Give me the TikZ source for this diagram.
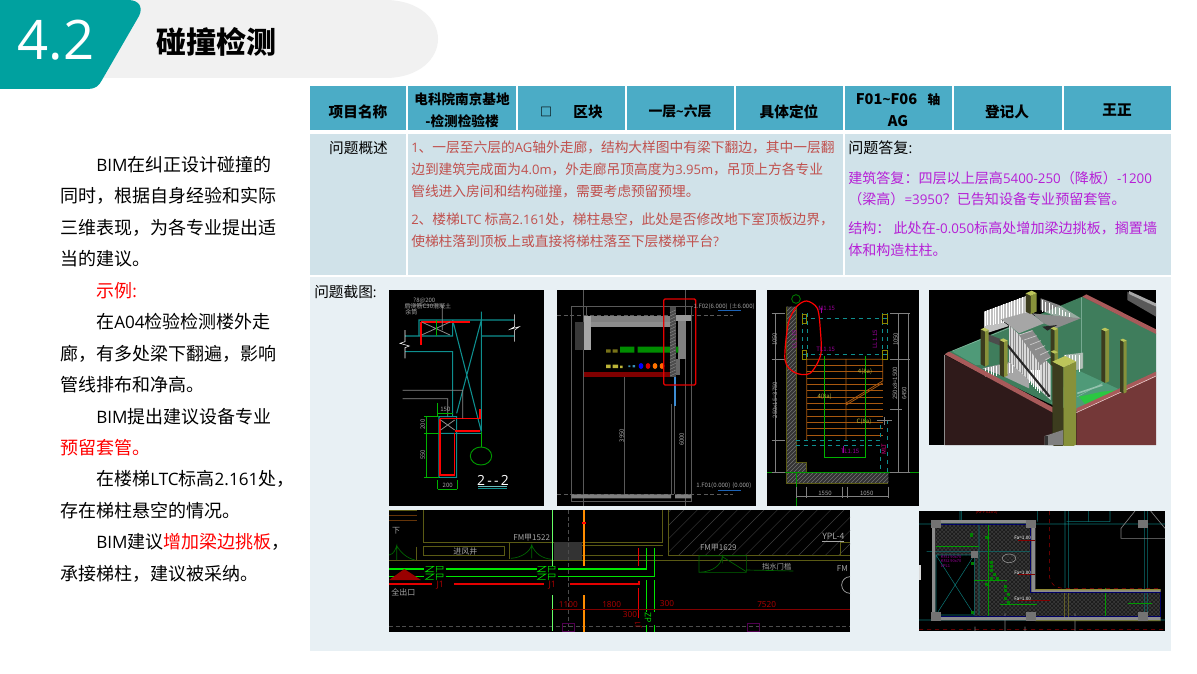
\documentclass[tikz,border=0pt]{standalone}
\usepackage{fontspec}
\setmainfont{Noto Sans CJK SC}
\newfontfamily\latinfont[Scale=0.95]{Open Sans}
\newcommand{\la}[1]{{\latinfont #1}}
\usetikzlibrary{patterns}
\definecolor{tealtab}{HTML}{00A19F}
\definecolor{headbar}{HTML}{F1F1F1}
\definecolor{cellhead}{HTML}{4BACC6}
\definecolor{cellbody}{HTML}{D0E2E9}
\definecolor{cellpale}{HTML}{E8F0F4}
\definecolor{redtext}{HTML}{C0504D}
\definecolor{purpletext}{HTML}{B61FD6}
\definecolor{cadteal}{HTML}{0E8F8F}
\definecolor{cadolive}{HTML}{5A5A14}
\definecolor{cadorange}{HTML}{A8580F}
\definecolor{cadmag}{HTML}{A000A0}
\definecolor{roomgreen}{HTML}{3F7D5C}
\definecolor{floorgreen}{HTML}{4F9A78}
\definecolor{wallleft}{HTML}{2F1A1A}
\definecolor{wallright}{HTML}{743838}
\definecolor{wallrim}{HTML}{A85A5A}
\definecolor{colfront}{HTML}{87913A}
\definecolor{coldark}{HTML}{3C3C1E}
\definecolor{coltop}{HTML}{BCC55A}
\tikzset{
  bodyline/.style={anchor=west,inner sep=0pt,font=\fontsize{13.5pt}{16pt}\selectfont},
  redline/.style={anchor=west,inner sep=0pt,text=redtext,font=\fontsize{10.3pt}{12pt}\selectfont},
  purpleline/.style={anchor=west,inner sep=0pt,text=purpletext,font=\fontsize{10.55pt}{12pt}\selectfont},
  headcell/.style={inner sep=0pt,align=center,font=\fontsize{11pt}{13pt}\selectfont\bfseries},
  cadlabel/.style={inner sep=0pt,text=black!35,font=\fontsize{4.5pt}{5pt}\selectfont},
  zoomed/.style={x=0.25pt,y=-0.25pt},
}
\begin{document}
\begin{tikzpicture}[x=0.75pt,y=-0.75pt]
\useasboundingbox (0,0) rectangle (1197,674);
\fill[white] (0,0) rectangle (1197,674);

% title bar
\fill[headbar] (100,0) -- (385,0) .. controls (420,0) and (438,20) .. (438,39)
  .. controls (438,58) and (420,78) .. (385,78) -- (100,78) -- cycle;
\fill[tealtab] (0,0) -- (128,0) .. controls (140,0) and (143,8) .. (139,16)
  -- (102,80) .. controls (99,86) and (95,89) .. (88,89) -- (0,89) -- cycle;
\node[text=white,font=\fontsize{43pt}{45pt}\selectfont\latinfont] (secnum) at (56,40) {4.2};
\node[anchor=west,inner sep=0pt,font=\fontsize{22.5pt}{24pt}\selectfont\bfseries] (sectitle) at (156,42) {碰撞检测};

% left text
\node[bodyline] (t1) at (96,165) {\la{BIM}在纠正设计碰撞的};
\node[bodyline] (t2) at (60,196) {同时，根据自身经验和实际};
\node[bodyline] (t3) at (60,228) {三维表现，为各专业提出适};
\node[bodyline] (t4) at (60,259) {当的建议。};
\node[bodyline,text=red] (t5) at (96,291) {示例\la{:}};
\node[bodyline] (t6) at (96,322) {在\la{A04}检验检测楼外走};
\node[bodyline] (t7) at (60,354) {廊，有多处梁下翻遍，影响};
\node[bodyline] (t8) at (60,385) {管线排布和净高。};
\node[bodyline] (t9) at (96,417) {\la{BIM}提出建议设备专业};
\node[bodyline,text=red] (t10) at (60,448) {预留套管。};
\node[bodyline] (t11) at (96,479) {在楼梯\la{LTC}标高\la{2.161}处，};
\node[bodyline] (t12) at (60,511) {存在梯柱悬空的情况。};
\node[bodyline] (t13) at (96,542) {\la{BIM}建议\textcolor{red}{增加梁边挑板}，};
\node[bodyline] (t14) at (60,574) {承接梯柱，建议被采纳。};

% table cells
\foreach \xa/\xb in {310/406,408/516,518/625,627/734,736/843,845/952,954/1062,1064/1171}
  \fill[cellhead] (\xa,86) rectangle (\xb,130);
\foreach \xa/\xb in {310/406,408/843,845/1171}
  \fill[cellbody] (\xa,134) rectangle (\xb,275);
\fill[cellpale] (310,277) rectangle (1171,651);

\node[headcell] (h1) at (358,112) {项目名称};
\node[headcell,font=\fontsize{10.2pt}{16.5pt}\selectfont\bfseries] (h2) at (462,110.5) {电科院南京基地\\-检测检验楼};
\node[headcell,font=\fontsize{9pt}{13pt}\selectfont\bfseries] (h3a) at (546,112) {□};
\node[headcell] (h3b) at (588,112) {区块};
\node[headcell,font=\fontsize{10.4pt}{13pt}\selectfont\bfseries] (h4) at (680,111) {一层\la{\textasciitilde}六层};
\node[headcell] (h5) at (789,112) {具体定位};
\node[headcell,font=\fontsize{11pt}{16.5pt}\selectfont\bfseries] (h6) at (898,110) {F01\la{\textasciitilde}F06\hspace{0.7em}{\fontsize{9.5pt}{12pt}\selectfont 轴}\\AG};
\node[headcell] (h7) at (1007,112) {登记人};
\node[headcell] (h8) at (1117,110) {王正};

\node[inner sep=0pt,font=\fontsize{11pt}{12pt}\selectfont] (q1) at (358.5,148) {问题概述};
\node[redline] (r1) at (411,147) {\la{1}、一层至六层的\la{AG}轴外走廊，结构大样图中有梁下翻边，其中一层翻};
\node[redline] (r2) at (411,169) {边到建筑完成面为\la{4.0m}，外走廊吊顶高度为\la{3.95m}，吊顶上方各专业};
\node[redline] (r3) at (411,191) {管线进入房间和结构碰撞，需要考虑预留预埋。};
\node[redline] (r4) at (411,219) {\la{2}、楼梯\la{LTC} 标高\la{2.161}处，梯柱悬空，此处是否修改地下室顶板边界，};
\node[redline] (r5) at (411,241) {使梯柱落到顶板上或直接将梯柱落至下层楼梯平台\la{?}};
\node[anchor=west,inner sep=0pt,font=\fontsize{11.3pt}{12pt}\selectfont] (q2) at (848,148) {问题答复\la{:}};
\node[purpleline] (p1) at (848,178) {建筑答复：四层以上层高\la{5400-250}（降板）\la{-1200}};
\node[purpleline] (p2) at (848,199) {（梁高）\la{=3950}？已告知设备专业预留套管。};
\node[purpleline] (p3) at (848,228) {结构： 此处在\la{-0.050}标高处增加梁边挑板，搁置墙};
\node[purpleline] (p4) at (848,250) {体和构造柱柱。};
\node[anchor=west,inner sep=0pt,font=\fontsize{11pt}{12pt}\selectfont] (q3) at (314,292) {问题截图\la{:}};

% shot 1: section 2--2
\begin{scope}[shift={(310,280)},zoomed]
\fill[black] (237,30) rectangle (702,678);
\draw[cadteal,line width=0.8pt] (327,120) rectangle (428,168) (428,120) -- (612,120)
  (514,168) -- (612,168) (285,168) -- (327,168) (285,215) -- (428,215) -- (428,410)
  (428,120) -- (514,455) (514,95) -- (514,455) (514,120) -- (440,400)
  (387,410) rectangle (440,592) (387,460) -- (514,460);
\draw[red,line width=1.2pt] (333,126) -- (480,126) (333,126) -- (333,195)
  (390,416) -- (510,416) -- (510,388) (434,453) -- (510,453)
  (390,416) -- (390,585) -- (434,585) -- (434,460);
\draw[black!45,line width=0.6pt] (278,331) -- (458,331) -- (458,415) (278,356) -- (413,356) -- (413,410)
  (397,150) -- (397,75) (285,75) -- (397,75) (392,420) -- (434,450) (434,420) -- (392,450)
  (335,126) -- (420,165) (420,126) -- (335,165);
\draw[white,line width=0.4pt] (285,150) -- (285,185) -- (270,190) -- (298,198) -- (285,203) -- (285,235)
  (614,103) -- (614,140) -- (600,148) -- (628,140) -- (614,150) -- (614,185);
\draw[green!70!black,line width=0.5pt] (349,410) -- (349,592) (342,410) -- (387,410) (342,460) -- (387,460)
  (342,592) -- (387,592) (383,400) -- (430,400) (383,370) -- (383,410) (383,628) -- (441,628)
  (383,600) -- (383,628) (441,600) -- (441,628) (379,120) -- (379,168) (513,455) -- (513,500);
\draw[green!60!black,line width=0.7pt] (513,528) ellipse (32 and 27);
\draw[cadteal!60!white,line width=0.8pt] (505,619) -- (591,619);
\draw[cadteal,line width=0.4pt] (505,625) -- (591,625);
\node[inner sep=0pt,text=white,font=\fontsize{11pt}{12pt}\selectfont\latinfont] (cut) at (549,600) {2\,-\,-\,2};
\node[cadlabel] (s1a) at (343,63) {?8@200};
\node[cadlabel,anchor=west] (s1b) at (283,78) {后浇筋C30混凝土};
\node[cadlabel,anchor=west] (s1c) at (285,98) {余筒};
\node[cadlabel] (s1d) at (406,388) {150};
\node[cadlabel] (s1e) at (413,616) {200};
\node[cadlabel,rotate=90] (s1f) at (338,433) {200};
\node[cadlabel,rotate=90] (s1g) at (338,525) {550};
\end{scope}

% shot 2: wall section
\begin{scope}[shift={(310,280)},zoomed]
\fill[black] (741,30) rectangle (1338,678);
\draw[black!65,line width=0.4pt] (820,30) -- (820,678) (1127,30) -- (1127,678) (784,80) rectangle (1144,665)
  (830,80) -- (830,107) (943,290) -- (943,643) (1083,373) -- (1083,643) (1092,373) -- (1092,643)
  (830,80) -- (1150,80);
\draw[black!65,densely dashed,line width=0.3pt] (741,105) -- (1270,105) (741,643) -- (1270,643);
\fill[black!78] (795,127) rectangle (842,210);
\fill[black!50] (822,107) rectangle (1080,127);
\fill[black!45] (822,127) rectangle (1080,140);
\fill[black!35] (822,107) rectangle (842,210);
\fill[black!40] (1095,105) rectangle (1144,122);
\fill[black!50] (1105,122) rectangle (1128,237);
\fill[black!60] (1097,237) rectangle (1110,285);
\fill[green!55!black] (930,200) rectangle (973,218) (983,200) rectangle (1105,218);
\fill[olive!80!black] (888,208) rectangle (902,218) (908,208) rectangle (923,218);
\fill[yellow!70!black] (888,254) rectangle (902,264) (908,254) rectangle (924,264) (930,257) rectangle (938,264);
\fill[cyan!70!black] (955,256) rectangle (961,261) (968,255) rectangle (975,262);
\foreach \cx/\ccol in {993/blue,1014/red!85!black,1035/orange!90!red,1056/orange!80!red}
  \fill[\ccol] (\cx,258) ellipse (7 and 9);
\fill[red!50!black] (822,276) rectangle (1085,290);
\fill[black!70] (1080,80) rectangle (1097,290);
\foreach \hy in {90,100,...,280}
  \draw[black!45,line width=0.3pt] (1080,\hy+8) -- (1097,\hy);
\fill[cyan!60!blue!80] (1092,290) rectangle (1098,378);
\fill[black!50] (784,643) rectangle (1083,655) (1095,643) rectangle (1144,655);
\draw[red!90!black,line width=1pt,rounded corners=1pt] (1061,57) rectangle (1157,315);
\draw[cyan!40!blue,line width=0.3pt] (1225,92) -- (1292,92) (1225,630) -- (1292,630);
\node[cadlabel,anchor=west] (s2a) at (1150,80) {1.F02(6.000)\,\,(±6.000)};
\node[cadlabel,anchor=west] (s2b) at (1158,616) {1.F01(0.000)\,\,(0.000)};
\node[cadlabel,rotate=90] (s2c) at (935,467) {3950};
\node[cadlabel,rotate=90] (s2d) at (1115,478) {6000};
\end{scope}

% shot 3: stair plan
\begin{scope}[shift={(760,280)},zoomed]
\fill[black] (21,30) rectangle (477,678);
\fill[black!80] (78,80) rectangle (108,578) (78,547) rectangle (140,610) (140,578) rectangle (385,610);
\fill[pattern=north east lines,pattern color=black!55] (78,80) rectangle (108,578) (78,547) rectangle (140,610) (140,578) rectangle (385,610);
\draw[cadolive,line width=0.5pt] (78,80) -- (78,610) -- (385,610) (108,80) -- (108,547) -- (140,547) -- (140,578) -- (385,578);
\draw[green!60!black,line width=0.5pt] (21,578) -- (477,578) (108,578) -- (108,678);
\draw[green!50!black,line width=0.6pt] (108,57) circle (13);
\foreach \ry in {256,275,...,480}
  \draw[cadorange,line width=0.6pt] (140,\ry) -- (368,\ry);
\draw[cadorange,line width=0.6pt] (140,238) -- (368,238) (140,238) -- (140,480) (258,238) -- (258,480)
  (368,238) -- (368,303) (260,368) -- (368,303) (260,374) -- (368,309);
\draw[green!70!black,line width=0.5pt] (193,228) -- (193,532) -- (316,532) -- (316,228);
\draw[cadteal,dashed,line width=0.6pt] (128,115) -- (383,115) (128,224) -- (383,224) (128,100) -- (128,238) (142,100) -- (142,238)
  (368,100) -- (368,238) (383,100) -- (383,238)
  (107,480) -- (362,480) -- (362,420) (107,497) -- (362,497) -- (362,578) (383,420) -- (383,578);
\foreach \cx/\cy in {127/102,368/102,127/210,368/210}
  \draw[olive,line width=0.6pt] (\cx,\cy) rectangle ++(13,28);
\draw[black!50,line width=0.4pt] (45,100) -- (45,578) (35,100) -- (75,100) (35,238) -- (75,238) (35,480) -- (75,480) (35,578) -- (75,578)
  (415,100) -- (415,578) (445,100) -- (445,578) (390,100) -- (450,100) (390,238) -- (450,238) (390,388) -- (425,388) (390,578) -- (450,578)
  (108,650) -- (385,650) (108,620) -- (108,655) (140,620) -- (140,655) (248,620) -- (248,655) (262,620) -- (262,655) (385,620) -- (385,655)
  (350,422) -- (395,422) (372,410) -- (372,435);
\draw[cadmag,line width=0.4pt] (183,100) -- (183,85) (250,497) -- (250,520);
\draw[red,line width=0.9pt] plot[smooth cycle] coordinates {(140,63) (172,85) (181,150) (182,225) (150,280) (105,278) (75,240) (85,130) (110,80)};
\node[cadlabel,text=cadmag] (s3a) at (200,85) {M1.15};
\node[cadlabel,text=cadmag,rotate=90] (s3b) at (103,178) {LL1.15};
\node[cadlabel,text=cadmag,rotate=90] (s3c) at (345,178) {LL1.15};
\node[cadlabel,text=cadmag] (s3d) at (197,207) {TL1.15};
\node[cadlabel,text=cadmag] (s3e) at (270,515) {TL1.15};
\node[cadlabel,text=magenta,rotate=90] (s3f) at (372,508) {MLT};
\node[cadlabel,text=yellow!70!black] (s3g) at (194,351) {4(8a)};
\node[cadlabel,text=yellow!70!black] (s3h) at (315,276) {4(8a)};
\node[cadlabel,text=yellow!70!black] (s3i) at (312,426) {C(8a)};
\node[cadlabel,rotate=90] (s3j) at (45,360) {250x15=3750};
\node[cadlabel,rotate=90] (s3k) at (405,310) {250x8=1500};
\node[cadlabel,rotate=90] (s3l) at (407,178) {1050};
\node[cadlabel,rotate=90] (s3m) at (44,178) {1050};
\node[cadlabel,rotate=90] (s3n) at (433,340) {6450};
\node[cadlabel] (s3o) at (195,640) {1550};
\node[cadlabel] (s3p) at (320,640) {1050};
\end{scope}

% shot 4: 3D view of the stair
\begin{scope}[shift={(929,290)},zoomed]
\fill[black] (0,0) rectangle (681,465);
\begin{scope}
\clip (0,0) rectangle (681,465);
\fill[black!65] (595,5) -- (681,50) -- (681,80) -- (595,30) -- cycle;
\fill[black!35] (600,3) -- (681,40) -- (681,50) -- (600,12) -- cycle;
\fill[roomgreen] (50,190) -- (460,20) -- (681,130) -- (681,260) -- (445,365) -- (370,345) -- cycle;
\fill[floorgreen] (70,185) -- (165,143) -- (165,225) -- (140,225) -- cycle;
\fill[floorgreen] (445,240) -- (575,300) -- (445,362) -- (365,340) -- cycle;
\fill[green!45!floorgreen] (450,320) -- (520,305) -- (570,300) -- (470,345) -- cycle;
\draw[floorgreen!60!white,line width=0.3pt] (458,22) -- (458,235) (70,183) -- (300,90) (445,320) -- (520,280);
\draw[floorgreen!60!white,line width=1.2pt] (445,310) -- (520,285);
% upper flight and landing
\fill[black!25] (165,65) -- (300,15) -- (300,70) -- (215,90) -- (240,108) -- (165,132) -- cycle;
\foreach \bx in {168,176,...,296}
  \draw[white,line width=0.35pt] (\bx,{65-(\bx-165)*.37}) -- (\bx,{108-(\bx-165)*.15});
\fill[black!25,opacity=.7] (335,25) -- (390,45) -- (455,85) -- (380,80) -- (335,60) -- cycle;
\foreach \bx in {340,350,...,420}
  \draw[white,line width=0.3pt] (\bx,{30+(\bx-340)*.5}) -- (\bx,{65+(\bx-340)*.2});
\fill[black!35] (215,88) -- (300,65) -- (345,100) -- (270,130) -- (240,105) -- cycle;
\fill[black!45] (310,70) -- (455,85) -- (380,115) -- (345,100) -- cycle;
\fill[black!85] (340,110) -- (385,105) -- (355,122) -- cycle;
% lower landing
\fill[black!35] (160,235) -- (270,210) -- (300,240) -- (300,295) -- (215,255) -- cycle;
\foreach \bx in {170,178,...,250}
  \draw[white,line width=0.3pt] (\bx,{235-(\bx-165)*.2}) -- (\bx,{265-(\bx-165)*.2});
\fill[black!15] (240,105) -- (365,225) -- (365,330) -- (240,215) -- cycle;
\fill[black!45] (270,135) -- (310,120) -- (365,200) -- (335,225) -- cycle;
\foreach \sy in {135,150,...,210}
  \draw[black!20,line width=0.5pt] ({270+(\sy-135)*1.05},\sy) -- ({310+(\sy-135)*.85},{\sy-13});
\foreach \bx in {244,252,...,362}
  \draw[black!45,line width=0.3pt] (\bx,{105+(\bx-240)*.96}) -- (\bx,{215+(\bx-240)*.92});
\foreach \bx in {300,306,...,330}
  \draw[white,line width=0.5pt] (\bx,240) -- (\bx,{280+(\bx-300)});
\fill[black!70] (170,130) -- (235,155) -- (235,175) -- (170,150) -- cycle;
\draw[black!85,line width=1.6pt] (235,165) -- (362,320);
\fill[black!20,opacity=.75] (405,195) -- (462,188) -- (462,235) -- (405,250) -- cycle;
\foreach \bx in {410,420,...,455}
  \draw[white,line width=0.3pt] (\bx,196) -- (\bx,245);
% walls
\fill[wallleft] (47,195) -- (370,365) -- (370,465) -- (47,465) -- cycle;
\fill[wallright] (442,368) -- (681,258) -- (681,465) -- (442,465) -- cycle;
\fill[wallrim] (47,193) -- (60,185) -- (372,352) -- (372,368) -- cycle;
\fill[wallrim] (442,355) -- (681,245) -- (681,260) -- (442,368) -- cycle;
\fill[wallrim] (460,20) -- (472,13) -- (681,118) -- (681,132) -- cycle;
\draw[black!45,line width=0.35pt] (47,195) -- (47,465);
\draw[white!80!wallrim,line width=0.35pt] (442,368) -- (681,258);
% columns
\foreach \cx/\cy/\ch/\lw/\rw in {155/118/105/13/11,212/150/105/13/11,290/10/55/15/18,365/115/70/12/10,365/185/40/12/10,517/118/155/12/11,573/150/155/11/9,370/215/250/33/38}{
  \fill[coldark] (\cx,\cy) -- ({\cx+\lw},{\cy+.5*\lw}) -- ++(0,\ch) -- (\cx,{\cy+\ch}) -- cycle;
  \fill[colfront] ({\cx+\lw},{\cy+.5*\lw}) -- ({\cx+\lw+\rw},{\cy+.5*\lw-.45*\rw}) -- ++(0,\ch) -- ({\cx+\lw},{\cy+.5*\lw+\ch}) -- cycle;
  \fill[coltop] (\cx,\cy) -- ({\cx+\rw},{\cy-.45*\rw}) -- ({\cx+\lw+\rw},{\cy+.5*\lw-.45*\rw}) -- ({\cx+\lw},{\cy+.5*\lw}) -- cycle;
}
\fill[black!50] (347,438) -- (402,420) -- (402,465) -- (347,465) -- cycle;
\fill[black!80] (347,438) rectangle (356,465);
\end{scope}
\end{scope}

% shot 5: corridor plan
\begin{scope}[shift={(385,505)},zoomed]
\fill[black] (12,15) rectangle (1395,380);
\begin{scope}
\clip (12,15) rectangle (1395,380);
\begin{scope}
\clip (850,15) rectangle (1395,152);
\foreach \hx in {720,760,...,1400}
  \draw[black!75,line width=0.3pt] (\hx,152) -- ++(137,-137);
\end{scope}
\draw[cadolive,line width=0.5pt] (115,15) -- (115,112) -- (833,112) -- (833,15) (850,15) -- (850,152) -- (1395,152)
  (115,125) rectangle (358,152) (373,112) -- (373,162) (95,125) -- (95,165)
  (12,15) -- (95,15) (592,122) -- (833,122) (592,152) -- (833,152) (12,165) -- (1395,165) (1365,112) -- (1395,112) (1365,112) -- (1365,152);
\draw[cadorange!60!black,line width=0.4pt] (12,30) -- (95,30) (12,45) -- (95,45);
\fill[black!80] (508,112) rectangle (592,165);
\draw[black!70,densely dashed,line width=0.4pt] (550,15) -- (550,380) (12,365) -- (1395,365);
\draw[green!40!black,line width=0.5pt] (12,150) .. controls (28,148) and (32,130) .. (35,122) -- (35,165)
  (35,122) .. controls (45,140) and (65,160) .. (90,165)
  (378,160) .. controls (410,158) and (435,140) .. (440,120) -- (440,160)
  (440,120) .. controls (450,145) and (470,160) .. (500,163)
  (942,202) .. controls (985,200) and (1008,180) .. (1012,155) -- (1012,175)
  (1012,155) -- (1084,200) (942,152) rectangle (1084,202) (1084,195) -- (1225,198);
\draw[green!90!black,line width=1pt] (12,192) -- (118,192) (12,215) -- (118,215) (182,192) -- (455,192) (182,215) -- (455,215)
  (520,192) -- (785,192) -- (785,130) (520,215) -- (808,215) -- (808,130)
  (785,225) -- (785,320) (808,225) -- (808,320) (785,360) -- (785,380) (808,360) -- (808,380);
\fill[red!60!black] (12,225) -- (58,192) -- (108,225) -- cycle;
\draw[red!90!black,line width=0.8pt] (12,237) -- (142,237) (208,237) -- (478,237) (555,237) -- (762,237) -- (762,228)
  (760,130) -- (760,183) (760,250) -- (760,340);
\draw[green!60!white,line width=1.2pt] (502,15) -- (502,182) (502,270) -- (502,378);
\draw[orange!90!yellow,line width=1.2pt] (597,15) -- (597,182) (597,270) -- (597,380);
\fill[red] (592,50) rectangle (604,57);
\draw[red!50!black,line width=0.5pt] (498,312) -- (1395,312);
\draw[cadmag!50!black,line width=0.5pt] (532,355) rectangle (568,378) (1088,355) rectangle (1124,378);
\draw[black!30,line width=0.5pt] (1395,240) circle (25);
\foreach \vx in {150,486}
  \foreach \vy in {192,215}
    \draw[green!85!black,line width=0.5pt] (\vx-28,\vy-8) -- (\vx-4,\vy-8) -- (\vx-28,\vy+8) -- (\vx-4,\vy+8)
      (\vx+4,\vy+10) -- (\vx+4,\vy-8) -- (\vx+24,\vy-8) -- (\vx+24,\vy) -- (\vx+4,\vy);
\node[cadlabel,font=\fontsize{6pt}{7pt}\selectfont] (s5a) at (440,97) {FM甲1522};
\node[cadlabel,font=\fontsize{6pt}{7pt}\selectfont] (s5b) at (241,140) {进风井};
\node[cadlabel,font=\fontsize{6pt}{7pt}\selectfont] (s5c) at (55,263) {全出口};
\node[cadlabel,font=\fontsize{6pt}{7pt}\selectfont] (s5d) at (33,77) {下};
\node[cadlabel,font=\fontsize{6pt}{7pt}\selectfont] (s5e) at (1000,127) {FM甲1629};
\node[cadlabel,font=\fontsize{5.5pt}{7pt}\selectfont] (s5f) at (1175,186) {挡水门槛};
\node[cadlabel,font=\fontsize{6.5pt}{7pt}\selectfont] (s5g) at (1345,98) {\underline{YPL-4}};
\node[cadlabel,font=\fontsize{6pt}{7pt}\selectfont] (s5h) at (1372,192) {FM};
\node[cadlabel,text=red!70!black,font=\fontsize{6.5pt}{7pt}\selectfont\latinfont] (dima) at (550,298) {1100};
\node[cadlabel,text=red!70!black,font=\fontsize{6.5pt}{7pt}\selectfont\latinfont] (dimb) at (680,298) {1800};
\node[cadlabel,text=red!70!black,font=\fontsize{6.5pt}{7pt}\selectfont\latinfont] (dimc) at (846,296) {300};
\node[cadlabel,text=red!70!black,font=\fontsize{6.5pt}{7pt}\selectfont\latinfont] (dimd) at (1145,298) {7520};
\node[cadlabel,text=red!70!black,font=\fontsize{6.5pt}{7pt}\selectfont\latinfont] (dime) at (735,328) {300};
\node[cadlabel,text=red!70!black,font=\fontsize{7pt}{8pt}\selectfont\latinfont] (j1a) at (166,241) {J1};
\node[cadlabel,text=red!70!black,font=\fontsize{7pt}{8pt}\selectfont\latinfont] (j1b) at (502,241) {J1};
\node[cadlabel,text=red!70!black,rotate=90,font=\fontsize{6pt}{7pt}\selectfont\latinfont] (j1c) at (760,357) {J1};
\node[cadlabel,text=green!85!black,rotate=-90,font=\fontsize{7pt}{8pt}\selectfont\latinfont] (zp) at (789,338) {ZP};
\end{scope}
\end{scope}

% shot 6: floor plan
\begin{scope}[shift={(910,505)},zoomed]
\fill[black] (27,18) rectangle (765,378);
\begin{scope}
\clip (27,18) rectangle (765,378);
\fill[black!78] (78,57) -- (365,57) -- (365,262) -- (750,262) -- (750,335) -- (78,335) -- cycle;
\fill[pattern=crosshatch,pattern color=black!90] (78,57) -- (365,57) -- (365,262) -- (750,262) -- (750,335) -- (78,335) -- cycle;
\fill[black] (78,150) rectangle (193,335);
\draw[cadteal!80!black,line width=0.4pt] (78,150) rectangle (193,330) (78,150) -- (193,330) (193,150) -- (78,330)
  (27,57) -- (765,57) (27,345) -- (765,345) (50,140) -- (360,140) (207,57) -- (207,330)
  (150,18) -- (150,50) (155,18) -- (155,50) (383,18) -- (383,50) (465,18) -- (465,250) (475,18) -- (475,250)
  (535,18) -- (535,50) (600,18) -- (600,50) (703,18) -- (703,335) (713,18) -- (713,335) (470,50) -- (600,50);
\draw[green!60!black,line width=0.4pt] (235,57) -- (235,335) (78,125) -- (207,125) (193,226) -- (290,226) (585,250) -- (585,345) (585,253) -- (640,253)
  (270,298) -- (380,298) (655,296) -- (725,296);
\draw[red!60!black,line width=0.4pt,dashed] (418,18) -- (418,210) .. controls (420,240) and (440,250) .. (465,250) -- (750,250)
  (27,373) -- (765,373);
\draw[black!50,line width=0.5pt] (675,18) -- (633,70) -- (633,100) -- (765,100) (722,18) -- (765,70)
  (285,325) -- (285,378) (495,325) -- (495,378) (195,365) -- (195,378) (345,365) -- (345,378);
\fill[black!45] (66,45) rectangle (370,55) (66,45) rectangle (76,345) (66,336) rectangle (752,346)
  (364,45) rectangle (376,262) (364,254) rectangle (752,262);
\fill[olive!65!gray] (376,252) rectangle (752,256) (376,346) rectangle (752,348);
\draw[blue!40!black,line width=0.3pt] (78,57) -- (362,57) -- (362,262) -- (750,262) -- (750,334) -- (78,334);
\foreach \sx/\sy in {78/57,362/57,699/57,78/335,362/335,699/335}
  \fill[black!55] (\sx-15,\sy-13) rectangle (\sx+15,\sy+13);
\fill[black!55] (183,139) rectangle (204,159);
\draw[black!40,line width=0.4pt] (297,160) ellipse (20 and 13);
\fill[white!85!black] (27,180) rectangle (34,225);
\foreach \gx/\gy in {243/172,243/184,243/196,253/208,243/220,263/220,285/245,285/257,295/269,285/281,295/293,185/90,228/98,188/175,228/238,188/322}
  \fill[green!50!black] (\gx-4,\gy-5) rectangle (\gx+5,\gy+5);
\draw[red!50!black,line width=0.4pt] (325,105) -- (375,105) (325,208) -- (375,208) (325,285) -- (420,285);
\draw[olive!60!black,line width=0.5pt] (463,265) -- (463,335) (474,265) -- (474,335);
\node[cadlabel,text=white,font=\fontsize{3.5pt}{4pt}\selectfont] (s6a) at (338,99) {Fa=1.00};
\node[cadlabel,text=white,font=\fontsize{3.5pt}{4pt}\selectfont] (s6b) at (338,202) {Fa=1.00};
\node[cadlabel,text=white,font=\fontsize{3.5pt}{4pt}\selectfont] (s6c) at (338,280) {Fa=1.00};
\node[cadlabel,text=cadmag,anchor=west,align=left,font=\fontsize{3pt}{3.5pt}\selectfont] (s6d) at (92,169) {KFJ1 90x70\\KFJ2 90x70\\LPL1};
\node[cadlabel,text=red!70!black,font=\fontsize{3.5pt}{4pt}\selectfont] (s6e) at (230,22) {(KPF0200)};
\end{scope}
\end{scope}

\end{tikzpicture}
\end{document}
